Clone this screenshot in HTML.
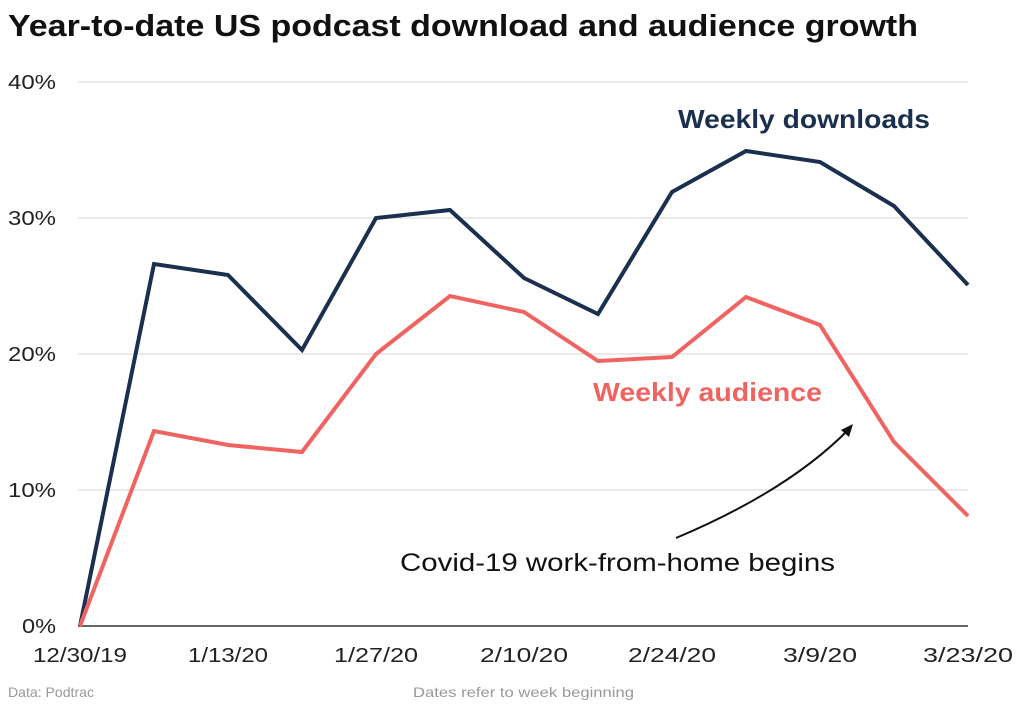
<!DOCTYPE html>
<html><head><style>
body{margin:0;background:#fff;}
svg{display:block;font-family:"Liberation Sans",sans-serif;}
</style></head><body>
<svg width="1024" height="707" viewBox="0 0 1024 707">
<rect width="1024" height="707" fill="#fff"/>
<text x="8" y="36" font-size="31" font-weight="bold" fill="#111" textLength="910" lengthAdjust="spacingAndGlyphs">Year-to-date US podcast download and audience growth</text>
<g stroke="#d6d6d6" stroke-width="1">
<line x1="78" x2="968" y1="82" y2="82"/>
<line x1="78" x2="968" y1="218" y2="218"/>
<line x1="78" x2="968" y1="354" y2="354"/>
<line x1="78" x2="968" y1="490" y2="490"/>
</g>
<line x1="78" x2="968" y1="626" y2="626" stroke="#333" stroke-width="1.5"/>
<g font-size="20" fill="#222">
<text x="8" y="89" textLength="48" lengthAdjust="spacingAndGlyphs">40%</text>
<text x="8" y="225" textLength="48" lengthAdjust="spacingAndGlyphs">30%</text>
<text x="8" y="361" textLength="48" lengthAdjust="spacingAndGlyphs">20%</text>
<text x="8" y="497" textLength="48" lengthAdjust="spacingAndGlyphs">10%</text>
<text x="22" y="633" textLength="34" lengthAdjust="spacingAndGlyphs">0%</text>
</g>
<g font-size="20" fill="#222" text-anchor="middle">
<text x="80" y="662" textLength="94" lengthAdjust="spacingAndGlyphs">12/30/19</text>
<text x="228" y="662" textLength="80" lengthAdjust="spacingAndGlyphs">1/13/20</text>
<text x="376" y="662" textLength="84" lengthAdjust="spacingAndGlyphs">1/27/20</text>
<text x="524" y="662" textLength="88" lengthAdjust="spacingAndGlyphs">2/10/20</text>
<text x="672" y="662" textLength="88" lengthAdjust="spacingAndGlyphs">2/24/20</text>
<text x="820" y="662" textLength="74" lengthAdjust="spacingAndGlyphs">3/9/20</text>
<text x="968" y="662" textLength="90" lengthAdjust="spacingAndGlyphs">3/23/20</text>
</g>
<polyline fill="none" stroke="#1b2f4e" stroke-width="4" points="80,626 154,264 228,275 302,350 376,218 450,210 524,278 598,314 672,192 746,151 820,162 894,206 968,285"/>
<polyline fill="none" stroke="#ef6461" stroke-width="4" points="80,626 154,431 228,445 302,452 376,354 450,296 524,312 598,361 672,357 746,297 820,325 894,442 968,516"/>
<text x="678" y="128" font-size="26" font-weight="bold" fill="#1b2f4e" textLength="252" lengthAdjust="spacingAndGlyphs">Weekly downloads</text>
<text x="593" y="401" font-size="26" font-weight="bold" fill="#ef6461" textLength="229" lengthAdjust="spacingAndGlyphs">Weekly audience</text>
<path d="M676,538 Q790,490 850,428" fill="none" stroke="#111" stroke-width="2"/>
<path d="M853,424 L841,430 L849,437 Z" fill="#111"/>
<text x="400" y="571" font-size="25" fill="#111" textLength="435" lengthAdjust="spacingAndGlyphs">Covid-19 work-from-home begins</text>
<text x="8" y="697" font-size="14" fill="#999" textLength="86" lengthAdjust="spacingAndGlyphs">Data: Podtrac</text>
<text x="413" y="697" font-size="14" fill="#999" textLength="221" lengthAdjust="spacingAndGlyphs">Dates refer to week beginning</text>
</svg>
</body></html>
